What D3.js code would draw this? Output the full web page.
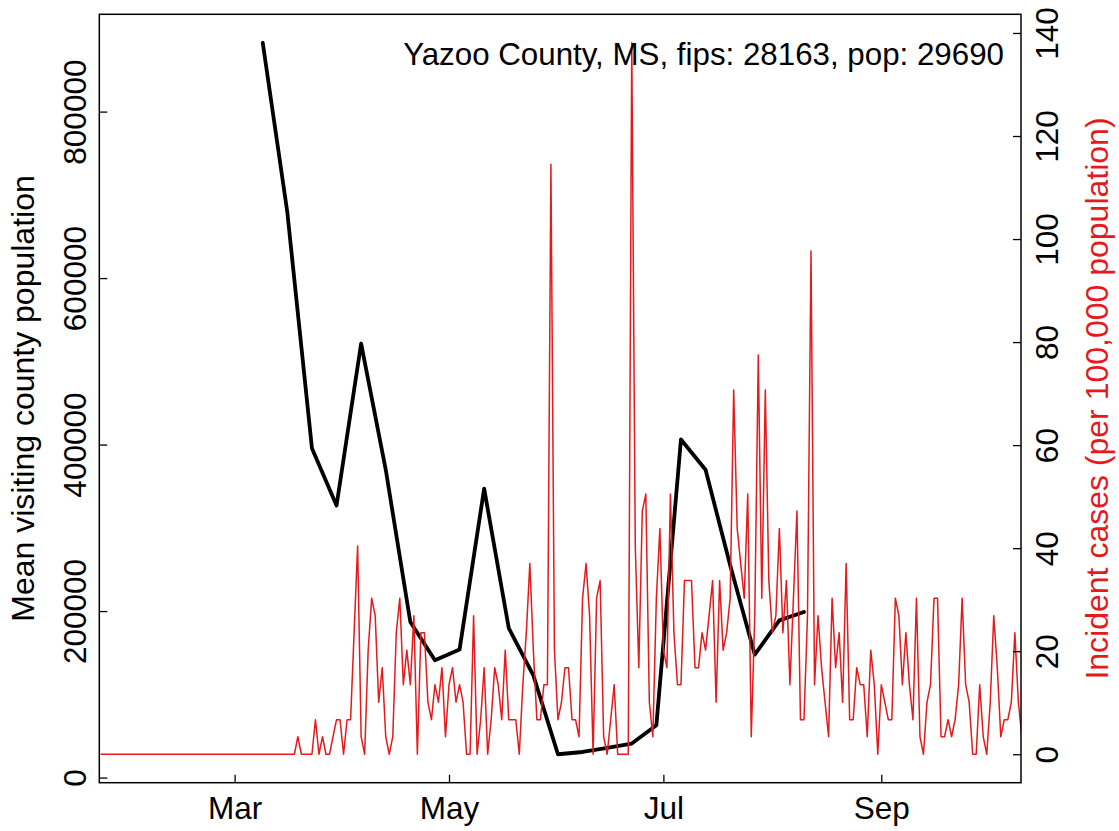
<!DOCTYPE html>
<html><head><meta charset="utf-8">
<script src="https://cdn.jsdelivr.net/npm/d3@7"></script>
<style>
html,body{margin:0;padding:0;background:#fff;}
svg{display:block;}
text{font-family:"Liberation Sans",Arial,Helvetica,sans-serif;}
</style>
</head><body>
<svg id="chart" width="1119" height="831"></svg>
<script>
// ---------------- data ----------------
const titleText = "Yazoo County, MS, fips: 28163, pop: 29690";
const leftAxisTitle = "Mean visiting county population";
const rightAxisTitle = "Incident cases (per 100,000 population)";

const visitDates = ["2020-03-09","2020-03-16","2020-03-23","2020-03-30","2020-04-06","2020-04-13",
  "2020-04-20","2020-04-27","2020-05-04","2020-05-11","2020-05-18","2020-05-25","2020-06-01",
  "2020-06-08","2020-06-15","2020-06-22","2020-06-29","2020-07-06","2020-07-13","2020-07-20",
  "2020-07-27","2020-08-03","2020-08-10"];
const visitValues = [882700,679000,395700,326900,521400,370000,
  186800,140800,153700,347000,179600,122800,28000,
  30700,35500,40800,62800,406100,369700,255000,
  147600,188800,198800];

const incidentStart = "2020-01-23"; // one value per day from this date
const incidentValues = [
  0,0,0,0,0,0,0,0,0,0,
  0,0,0,0,0,0,0,0,0,0,
  0,0,0,0,0,0,0,0,0,0,
  0,0,0,0,0,0,0,0,0,0,
  0,0,0,0,0,0,0,0,0,0,
  0,0,0,0,0,0,3.4,0,0,0,
  0,6.7,0,3.4,0,0,3.4,6.7,6.7,0,
  6.7,6.7,23.6,40.4,3.4,0,20.2,30.3,26.9,10.1,
  16.8,3.4,0,3.4,23.6,30.3,13.5,20.2,13.5,26.9,
  0,23.6,23.6,10.1,6.7,13.5,10.1,16.8,3.4,13.5,
  16.8,10.1,13.5,10.1,0,0,26.9,0,6.7,16.8,
  0,6.7,16.8,13.5,6.7,20.2,6.7,6.7,6.7,0,
  13.5,23.6,37.0,20.2,6.7,6.7,13.5,13.5,114.5,20.2,
  6.7,10.1,16.8,16.8,6.7,6.7,3.4,30.3,37.0,26.9,
  0,30.3,33.7,3.4,0,6.7,13.5,0,0,0,
  0,138.1,40.4,16.8,47.2,50.5,10.1,3.4,30.3,43.8,
  20.2,16.8,50.5,23.6,13.5,13.5,33.7,33.7,33.7,16.8,
  16.8,23.6,20.2,26.9,33.7,10.1,33.7,20.2,23.6,30.3,
  70.7,43.8,37.0,30.3,50.5,3.4,26.9,77.5,30.3,70.7,
  33.7,23.6,26.9,43.8,23.6,33.7,13.5,30.3,47.2,6.7,
  6.7,26.9,97.7,13.5,26.9,16.8,10.1,3.4,30.3,16.8,
  23.6,10.1,37.0,6.7,6.7,16.8,13.5,13.5,3.4,20.2,
  13.5,0,13.5,10.1,6.7,6.7,30.3,26.9,13.5,23.6,
  13.5,6.7,30.3,3.4,0,10.1,13.5,30.3,30.3,3.4,
  3.4,6.7,3.4,6.7,13.5,30.3,13.5,10.1,0,0,
  13.5,3.4,0,10.1,26.9,16.8,3.4,6.7,6.7,10.1,
  23.6,10.1,3.4
];

const xTickDates = ["2020-03-01","2020-05-01","2020-07-01","2020-09-01"];
const xTickLabels = ["Mar","May","Jul","Sep"];
const leftTicks = [0,200000,400000,600000,800000];
const rightTicks = [0,20,40,60,80,100,120,140];
const xDomain = ["2020-01-22T12:00:00Z","2020-10-10T18:00:00Z"];

// ---------------- layout ----------------
const P = {left:99.3, right:1021, top:14.3, bottom:782.7};
const FS = 31.5;      // tick labels
const FS_LAB = 32;    // axis titles
const FS_TITLE = 31.3;
const RED = "#E41A1C";

const svg = d3.select("#chart");
const parse = d3.utcParse("%Y-%m-%d");

const x = d3.scaleUtc().domain(xDomain.map(d => new Date(d))).range([P.left, P.right]);

const [bmin, bmax] = d3.extent(visitValues);
const bpad = 0.04 * (bmax - bmin);
const yL = d3.scaleLinear().domain([bmin - bpad, bmax + bpad]).range([P.bottom, P.top]);

const [rmin, rmax] = d3.extent(incidentValues);
const rpad = 0.04 * (rmax - rmin);
const yR = d3.scaleLinear().domain([rmin - rpad, rmax + rpad]).range([P.bottom, P.top]);

const visit = visitDates.map((d,i) => ({date: parse(d), v: visitValues[i]}));
const start = parse(incidentStart);
const incident = incidentValues.map((v,i) => ({date: d3.utcDay.offset(start, i), v}));

svg.append("defs").append("clipPath").attr("id","plotclip")
  .append("rect").attr("x",P.left).attr("y",P.top)
  .attr("width",P.right-P.left).attr("height",P.bottom-P.top);

const plot = svg.append("g").attr("clip-path","url(#plotclip)");

plot.append("path").datum(visit)
  .attr("fill","none").attr("stroke","#000").attr("stroke-width",3.8)
  .attr("stroke-linejoin","round").attr("stroke-linecap","round")
  .attr("d", d3.line().x(d => x(d.date)).y(d => yL(d.v)));

plot.append("path").datum(incident)
  .attr("fill","none").attr("stroke",RED).attr("stroke-width",1.5)
  .attr("stroke-linejoin","round").attr("stroke-linecap","round")
  .attr("d", d3.line().x(d => x(d.date)).y(d => yR(d.v)));

// ---------------- axes ----------------
const TICK = 8;
function styleAxis(g){
  g.select(".domain").remove();
  g.selectAll(".tick line").attr("stroke","#000").attr("stroke-width",1.3);
  g.selectAll("text").attr("fill","#000").style("font-size",FS+"px")
    .style("font-family","'Liberation Sans',Arial,Helvetica,sans-serif");
}

// bottom
const gx = svg.append("g").attr("transform",`translate(0,${P.bottom})`)
  .call(d3.axisBottom(x).tickValues(xTickDates.map(d => parse(d)))
    .tickFormat((d,i) => xTickLabels[i]).tickSize(-TICK).tickPadding(14.2));
styleAxis(gx);

// left
const gl = svg.append("g").attr("transform",`translate(${P.left},0)`)
  .call(d3.axisLeft(yL).tickValues(leftTicks).tickFormat(d3.format("d")).tickSize(-TICK));
styleAxis(gl);
gl.selectAll(".tick text")
  .attr("x",null).attr("y",null).attr("dy",null)
  .attr("text-anchor","middle")
  .attr("transform",`translate(${86 - P.left},0) rotate(-90)`);

// right
const gr = svg.append("g").attr("transform",`translate(${P.right},0)`)
  .call(d3.axisRight(yR).tickValues(rightTicks).tickFormat(d3.format("d")).tickSize(-TICK));
styleAxis(gr);
gr.selectAll(".tick text")
  .attr("x",null).attr("y",null).attr("dy",null)
  .attr("text-anchor","middle")
  .attr("transform",`translate(${1057.5 - P.right},0) rotate(-90)`);

// frame
svg.append("rect").attr("x",P.left).attr("y",P.top)
  .attr("width",P.right-P.left).attr("height",P.bottom-P.top)
  .attr("fill","none").attr("stroke","#000").attr("stroke-width",1.5);

// titles
const midY = (P.top + P.bottom)/2;
svg.append("text").attr("transform",`translate(34,${midY}) rotate(-90)`)
  .attr("text-anchor","middle").style("font-size",FS_LAB+"px").attr("fill","#000")
  .text(leftAxisTitle);
svg.append("text").attr("transform",`translate(1108,${midY}) rotate(-90)`)
  .attr("text-anchor","middle").style("font-size",FS_LAB+"px").attr("fill",RED)
  .text(rightAxisTitle);
svg.append("text").attr("x",1004).attr("y",65)
  .attr("text-anchor","end").style("font-size",FS_TITLE+"px").attr("fill","#000")
  .text(titleText);
</script>
</body></html>
